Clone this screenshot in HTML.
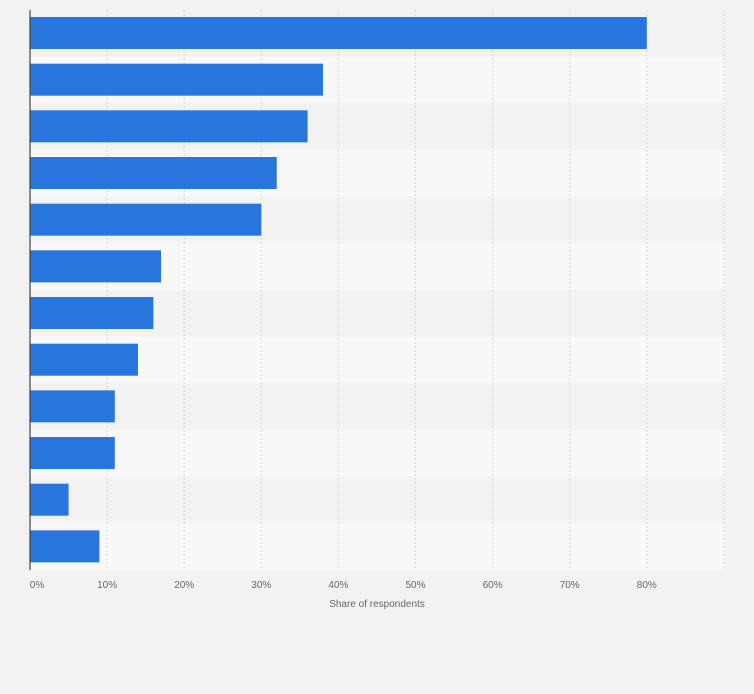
<!DOCTYPE html>
<html><head><meta charset="utf-8"><style>
body{margin:0;background:#f2f2f2;font-family:"Liberation Sans",sans-serif;}
</style></head><body>
<svg id="chart" width="754" height="689" xmlns="http://www.w3.org/2000/svg"></svg>
<script>
const categories=["c1","c2","c3","c4","c5","c6","c7","c8","c9","c10","c11","c12"];
const values=[80,38,36,32,30,17,16,14,11,11,5,9];
const ticks=[0,10,20,30,40,50,60,70,80];
const tickLabels=["0%","10%","20%","30%","40%","50%","60%","70%","80%"];
const svg=document.getElementById('chart');
const NS="http://www.w3.org/2000/svg";
const x0=30,pxPer=7.71,top0=10,rowH=46.67,plotRight=725;
const x=v=>x0+v*pxPer;
const y=i=>top0+i*rowH;
function mk(t,a){const e=document.createElementNS(NS,t);for(const k in a)e.setAttribute(k,a[k]);svg.appendChild(e);return e;}
categories.forEach((c,i)=>{
  const r=mk('rect',{x:x0,y:y(i),width:plotRight-x0,height:rowH,fill:i%2?'#f8f8f8':'#f2f2f2'});
  
  
});
ticks.concat([90]).forEach(t=>{
  if(t===0)return;
  const l=mk('line',{x1:x(t),x2:x(t),y1:top0,y2:y(categories.length),stroke:'#d8d8d8','stroke-dasharray':'2,2'});
  
  
});
categories.forEach((c,i)=>{
  const b=mk('rect',{x:x0,y:y(i)+7,width:x(values[i])-x0,height:32,fill:'#2876dd'});
  
  
});
const ax=mk('line',{x1:x0,x2:x0,y1:top0,y2:y(categories.length),stroke:'#444','stroke-width':1.2});


ticks.forEach((t,i)=>{
  const tx=mk('text',{x:x(t)+(t===0?7:0),y:588,'font-size':10,fill:'#666','text-anchor':'middle'});
  tx.textContent=tickLabels[i];
  
  
});
const tt=mk('text',{x:377,y:607,'font-size':10,fill:'#666','text-anchor':'middle'});
tt.textContent="Share of respondents";


</script>
</body></html>
